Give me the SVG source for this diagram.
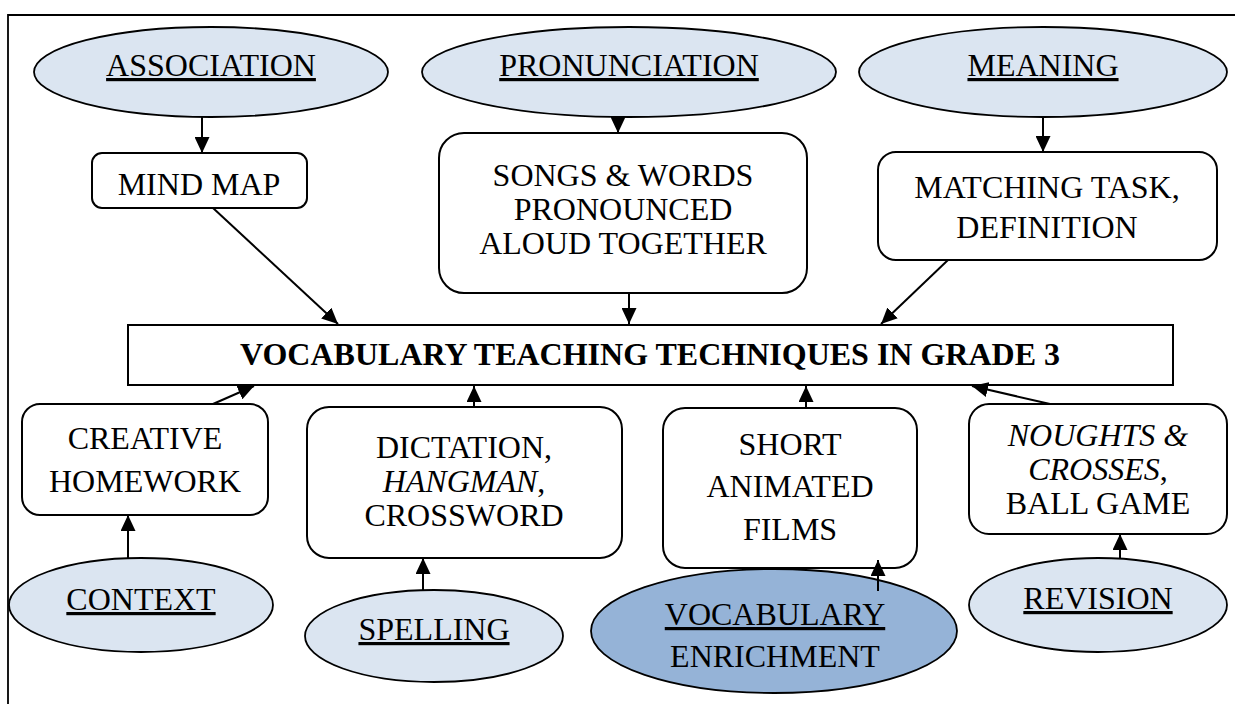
<svg xmlns="http://www.w3.org/2000/svg" width="1235" height="704" viewBox="0 0 1235 704">
<defs>
<style>
.t{font-family:"Liberation Serif","Times New Roman",serif;font-size:32px;fill:#000;text-anchor:middle}
.b{font-weight:bold}
.u{text-decoration:underline}
.i{font-style:italic}
.ell{fill:#DBE5F1;stroke:#000;stroke-width:1.8}
.ell2{fill:#95B3D7;stroke:#000;stroke-width:1.8}
.box{fill:#fff;stroke:#000;stroke-width:2}
.c{stroke:#000;stroke-width:2;fill:none;marker-end:url(#ah)}
</style>
<marker id="ah" markerUnits="userSpaceOnUse" markerWidth="17" markerHeight="15" refX="16" refY="7.5" orient="auto">
<path d="M0,0 L16,7.5 L0,15 z" fill="#000"/>
</marker>
</defs>
<rect width="1235" height="704" fill="#fff"/>
<path d="M8,704 V15 H1235" fill="none" stroke="#000" stroke-width="1.8"/>

<g id="association"><ellipse class="ell" cx="211" cy="72" rx="177" ry="45"/><text class="t u" x="211" y="76">ASSOCIATION</text></g>
<g id="pronunciation"><ellipse class="ell" cx="629" cy="72" rx="207" ry="45"/><text class="t u" x="629" y="76">PRONUNCIATION</text></g>
<g id="meaning"><ellipse class="ell" cx="1043" cy="72" rx="184" ry="45"/><text class="t u" x="1043" y="76">MEANING</text></g>

<g id="mindmap"><rect class="box" x="92" y="153" width="215" height="55" rx="10"/><text class="t" x="199" y="195">MIND MAP</text></g>
<g id="songs"><rect class="box" x="439" y="133" width="368" height="160" rx="25"/>
<text class="t" x="623" y="186">SONGS &amp; WORDS</text>
<text class="t" x="623" y="220">PRONOUNCED</text>
<text class="t" x="623" y="254">ALOUD TOGETHER</text></g>
<g id="matching"><rect class="box" x="878" y="152" width="339" height="108" rx="18"/>
<text class="t" x="1047" y="198">MATCHING TASK,</text>
<text class="t" x="1047" y="238">DEFINITION</text></g>

<g id="central"><rect class="box" x="128" y="325" width="1045" height="60"/>
<text class="t b" x="650" y="365">VOCABULARY TEACHING TECHNIQUES IN GRADE 3</text></g>

<g id="creative"><rect class="box" x="22" y="404" width="246" height="111" rx="18"/>
<text class="t" x="145" y="449">CREATIVE</text>
<text class="t" x="145" y="492">HOMEWORK</text></g>
<g id="dictation"><rect class="box" x="307" y="407" width="315" height="151" rx="22"/>
<text class="t" x="464" y="458">DICTATION,</text>
<text class="t" x="464" y="492"><tspan class="i">HANGMAN</tspan>,</text>
<text class="t" x="464" y="526">CROSSWORD</text></g>
<g id="short"><rect class="box" x="663" y="408" width="254" height="160" rx="22"/>
<text class="t" x="790" y="455">SHORT</text>
<text class="t" x="790" y="497">ANIMATED</text>
<text class="t" x="790" y="540">FILMS</text></g>
<g id="noughts"><rect class="box" x="969" y="404" width="258" height="130" rx="20"/>
<text class="t i" x="1098" y="446">NOUGHTS &amp;</text>
<text class="t" x="1098" y="480"><tspan class="i">CROSSES</tspan>,</text>
<text class="t" x="1098" y="514">BALL GAME</text></g>

<g id="context"><ellipse class="ell" cx="141" cy="605" rx="132" ry="47"/><text class="t u" x="141" y="610">CONTEXT</text></g>
<g id="spelling"><ellipse class="ell" cx="434" cy="636" rx="129" ry="46"/><text class="t u" x="434" y="640">SPELLING</text></g>
<g id="enrichment"><ellipse class="ell2" cx="774" cy="631" rx="183" ry="62"/>
<text class="t u" x="775" y="625">VOCABULARY</text>
<text class="t" x="775" y="667">ENRICHMENT</text></g>
<g id="revision"><ellipse class="ell" cx="1098" cy="605" rx="129" ry="47"/><text class="t u" x="1098" y="609">REVISION</text></g>

<g id="connectors">
<line class="c" x1="202" y1="117" x2="202" y2="153"/>
<line class="c" x1="618" y1="117" x2="618" y2="133"/>
<line class="c" x1="1043" y1="117" x2="1043" y2="152"/>
<line class="c" x1="213" y1="208" x2="338" y2="324"/>
<line class="c" x1="629" y1="293" x2="629" y2="324"/>
<line class="c" x1="948" y1="260" x2="881" y2="324"/>
<line class="c" x1="213" y1="404" x2="254" y2="386"/>
<line class="c" x1="474" y1="407" x2="474" y2="386"/>
<line class="c" x1="806" y1="408" x2="806" y2="386"/>
<line class="c" x1="1050" y1="404" x2="972" y2="386"/>
<line class="c" x1="128" y1="558" x2="128" y2="515"/>
<line class="c" x1="423" y1="590" x2="423" y2="558"/>
<line class="c" x1="878" y1="591" x2="878" y2="560"/>
<line class="c" x1="1120" y1="558" x2="1120" y2="534"/>
</g>
</svg>
